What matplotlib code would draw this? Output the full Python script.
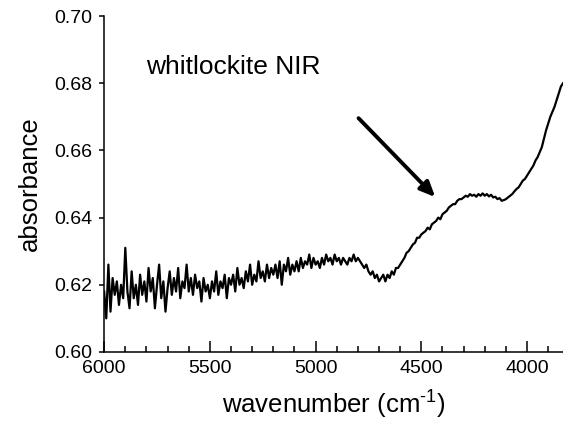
import numpy as np
import matplotlib
matplotlib.use("Agg")
import matplotlib.pyplot as plt
from matplotlib.ticker import MultipleLocator

plt.rcParams['font.family'] = ['Liberation Sans', 'DejaVu Sans']
plt.rcParams['mathtext.fontset'] = 'custom'
plt.rcParams['mathtext.rm'] = 'Liberation Sans'
plt.rcParams['mathtext.it'] = 'Liberation Sans'

wavenumber = list(range(6000, 3820, -10))
absorbance = [
    # 6000-5900
    0.618, 0.610, 0.626, 0.612, 0.622, 0.617, 0.621, 0.614, 0.620, 0.616, 0.631,
    # 5890-5800
    0.618, 0.613, 0.624, 0.616, 0.620, 0.614, 0.623, 0.617, 0.621, 0.615,
    # 5790-5700
    0.625, 0.618, 0.622, 0.613, 0.620, 0.626, 0.616, 0.621, 0.612, 0.619,
    # 5690-5600
    0.624, 0.617, 0.622, 0.618, 0.625, 0.616, 0.621, 0.619, 0.626, 0.618,
    # 5590-5500
    0.622, 0.617, 0.623, 0.619, 0.621, 0.615, 0.622, 0.618, 0.620, 0.616,
    # 5490-5400
    0.621, 0.618, 0.624, 0.617, 0.621, 0.619, 0.623, 0.616, 0.622, 0.620,
    # 5390-5300
    0.623, 0.618, 0.625, 0.620, 0.622, 0.619, 0.624, 0.621, 0.626, 0.620,
    # 5290-5200
    0.623, 0.621, 0.627, 0.622, 0.624, 0.621, 0.626, 0.622, 0.625, 0.623,
    # 5190-5100
    0.626, 0.622, 0.627, 0.620, 0.626, 0.624, 0.628, 0.623, 0.626, 0.624,
    # 5090-5000
    0.627, 0.624, 0.628, 0.625, 0.627, 0.626, 0.629, 0.625, 0.628, 0.626,
    # 4990-4900
    0.627, 0.625, 0.628, 0.626, 0.629, 0.627, 0.628, 0.626, 0.629, 0.627,
    # 4890-4800
    0.628, 0.626, 0.628, 0.627, 0.626, 0.628, 0.627, 0.629, 0.627, 0.628,
    # 4790-4700
    0.627, 0.626, 0.625, 0.626, 0.624, 0.623, 0.624, 0.622, 0.623, 0.621,
    # 4690-4600
    0.622, 0.623, 0.621, 0.623, 0.622, 0.624, 0.623, 0.625, 0.625, 0.626,
    # 4590-4500
    0.627, 0.628, 0.6295, 0.630, 0.631, 0.632, 0.6325, 0.634, 0.634, 0.635,
    # 4490-4400
    0.6355, 0.636, 0.637, 0.6365, 0.638, 0.6385, 0.639, 0.640, 0.6395, 0.641,
    # 4390-4300
    0.6415, 0.642, 0.643, 0.6435, 0.644, 0.644, 0.645, 0.6455, 0.6455, 0.646,
    # 4290-4200
    0.6465, 0.6462, 0.647, 0.6465, 0.6468, 0.6462, 0.647, 0.6465, 0.6472, 0.6465,
    # 4190-4100
    0.647, 0.6463, 0.6468, 0.646, 0.6462, 0.6455, 0.6458, 0.645, 0.6452, 0.6455,
    # 4090-4000
    0.646, 0.6465, 0.647, 0.6478, 0.6485, 0.649, 0.650, 0.651, 0.6515, 0.6525,
    # 3990-3900
    0.6535, 0.6545, 0.6555, 0.657, 0.658, 0.6595, 0.661, 0.6635, 0.666, 0.668,
    # 3890-3830
    0.670, 0.6715, 0.673, 0.675, 0.677, 0.679, 0.680,
]

x_ticks = [6000, 5500, 5000, 4500, 4000]
y_ticks = [0.60, 0.62, 0.64, 0.66, 0.68, 0.70]
y_tick_labels = ["0.60", "0.62", "0.64", "0.66", "0.68", "0.70"]
label_text = "whitlockite NIR"
arrow_start = (4797, 0.6696)
arrow_end = (4434, 0.6461)

fig = plt.figure(figsize=(5.63, 4.22), dpi=100)
ax = fig.add_axes([0.185, 0.166, 0.815, 0.796])
ax.plot(wavenumber, absorbance, color='black', lw=1.6)

ax.set_xlim(6000, 3830)
ax.set_ylim(0.60, 0.70)
ax.set_xticks(x_ticks)
ax.xaxis.set_minor_locator(MultipleLocator(100))
ax.set_yticks(y_ticks)
ax.set_yticklabels(y_tick_labels)

for s in ['top', 'right']:
    ax.spines[s].set_visible(False)
for s in ['left', 'bottom']:
    ax.spines[s].set_linewidth(1.1)

ax.tick_params(axis='x', which='major', direction='in', length=8, width=1.1,
               labelsize=14, pad=6)
ax.tick_params(axis='x', which='minor', direction='in', length=4.5, width=1.1)
ax.tick_params(axis='y', which='major', direction='out', length=3.6, width=1.1,
               labelsize=14, pad=5)

ax.set_xlabel("wavenumber (cm$^{\\mathrm{\u2010}1}$)", fontsize=18.5, labelpad=8)
ax.set_ylabel("absorbance", fontsize=18.5, labelpad=9)

ax.text(5800, 0.6848, label_text, fontsize=19, ha='left', va='center')
ax.annotate("", xy=arrow_end, xytext=arrow_start,
            arrowprops=dict(arrowstyle="-|>,head_length=0.9,head_width=0.4",
                            color='black', lw=2.8, shrinkA=0, shrinkB=0))

fig.savefig("out.png", dpi=100)
